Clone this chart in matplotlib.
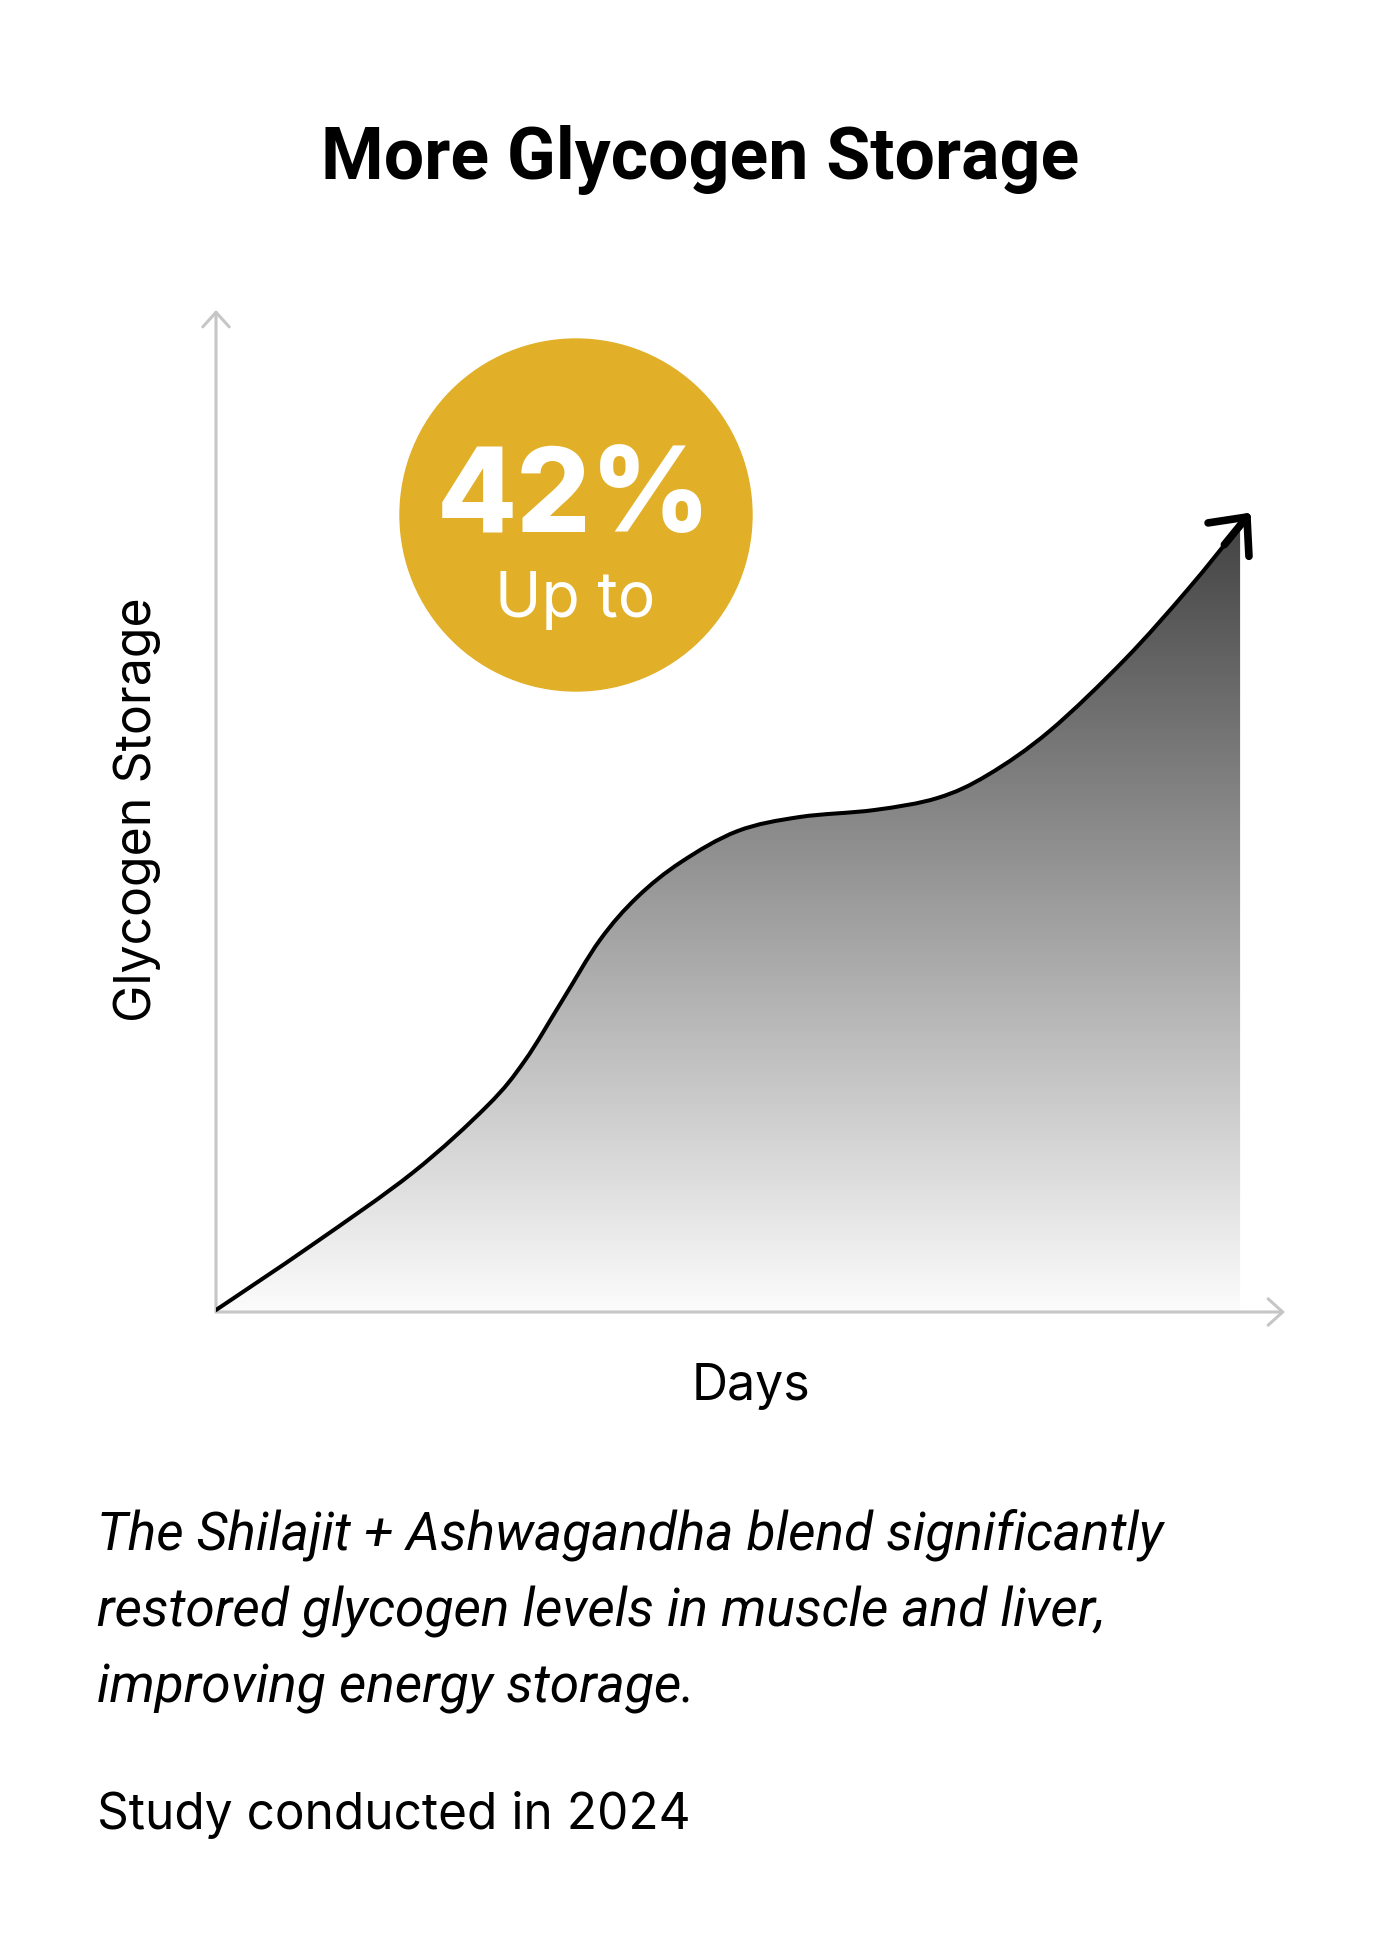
import numpy as np
import matplotlib
matplotlib.use("Agg")
import matplotlib.pyplot as plt
from matplotlib.colors import LinearSegmentedColormap
from matplotlib.patches import Circle, PathPatch
from matplotlib.path import Path

# curve (days, storage in % of axis height)
days = [0.0, 9.0, 18.4, 25.4, 28.9, 32.4, 35.9, 39.4, 43.5, 48.8, 54.6,
        61.6, 67.5, 72.2, 78.0, 85.0, 90.9, 95.8]
storage = [0.2, 6.7, 13.9, 20.6, 25.1, 31.1, 37.1, 41.4, 44.9, 48.0, 49.4,
           50.1, 51.3, 53.6, 58.0, 65.1, 72.1, 78.5]

title = "More Glycogen Storage"
badge_value = "42%"
badge_text = "Up to"
x_label = "Days"
y_label = "Glycogen Storage"
caption = ["The Shilajit + Ashwagandha blend significantly",
           "restored glycogen levels in muscle and liver,",
           "improving energy storage."]
footnote = "Study conducted in 2024"

W, H = 1400, 1960
fig = plt.figure(figsize=(W / 100, H / 100), dpi=100)
fig.patch.set_facecolor("white")


def fx(x):
    return x / W


def fy(y):
    return 1 - y / H


def smooth_path(xs, ys, close_to=None):
    """Bezier path through the points (Catmull-Rom style handles)."""
    p = np.column_stack([xs, ys])
    ext = np.vstack([p[0], p, p[-1]])
    verts = [p[0]]
    codes = [Path.MOVETO]
    for i in range(1, len(ext) - 2):
        p0, p1, p2, p3 = ext[i - 1], ext[i], ext[i + 1], ext[i + 2]
        verts += [p1 + (p2 - p0) / 6, p2 - (p3 - p1) / 6, p2]
        codes += [Path.CURVE4] * 3
    if close_to is not None:
        verts += [(xs[-1], close_to), (xs[0], close_to), p[0]]
        codes += [Path.LINETO, Path.LINETO, Path.CLOSEPOLY]
    return Path(verts, codes)


# plot area
ax = fig.add_axes([fx(216), fy(1312), fx(1285 - 216), (1312 - 310) / H])
ax.set_xlim(0, 100)
ax.set_ylim(0, 100)
ax.axis("off")

# gradient under the curve
cmap = LinearSegmentedColormap.from_list("g", ["#fcfcfc", "#444444"])
top = max(storage)
grad = np.linspace(0, 1, 256).reshape(-1, 1)
im = ax.imshow(grad, cmap=cmap, origin="lower", aspect="auto",
               extent=[days[0], days[-1], 0, top], zorder=1)
im.set_clip_path(smooth_path(days, storage, close_to=0), transform=ax.transData)

ax.add_patch(PathPatch(smooth_path(days, storage), facecolor="none",
                       edgecolor="black", lw=2.9, capstyle="round",
                       joinstyle="round", zorder=3))

# arrow head at the end of the curve
dx = days[-1] - days[-2]
dy = storage[-1] - storage[-2]
ax.annotate("", xy=(days[-1] + 0.2 * dx, storage[-1] + 0.2 * dy),
            xytext=(days[-1] - 0.3 * dx, storage[-1] - 0.3 * dy),
            arrowprops=dict(arrowstyle="->,head_length=1.05,head_width=0.95",
                            lw=5.5, color="black", shrinkA=0, shrinkB=0,
                            mutation_scale=20, capstyle="round",
                            joinstyle="round"), zorder=4)

# axis arrows
axis_col = "#c6c6c6"
for end in [(0, 1), (1, 0)]:
    ax.annotate("", xy=end, xytext=(0, 0), xycoords="axes fraction",
                textcoords="axes fraction",
                arrowprops=dict(arrowstyle="->,head_length=1.05,head_width=0.95",
                                lw=2.2, color=axis_col, shrinkA=0, shrinkB=0),
                zorder=2)

# badge
fig.add_artist(Circle((5.76, (H - 515) / 100), 1.76, color="#E1AF28",
                      transform=fig.dpi_scale_trans, zorder=5))
fig.text(fx(574), fy(532), badge_value, ha="center", va="baseline",
         fontsize=84, fontweight=800, color="white", family="Inter", zorder=6)
fig.text(fx(575), fy(617), badge_text, ha="center", va="baseline",
         fontsize=45, color="white", family="Inter", zorder=6)

# texts
fig.text(fx(700), fy(179), title, ha="center", va="baseline",
         fontsize=51.6, fontweight="bold", family="Roboto")
fig.text(fx(137), fy(810), y_label, ha="center", va="center", rotation=90,
         fontsize=36, family="Inter")
fig.text(fx(751), fy(1400), x_label, ha="center", va="baseline",
         fontsize=36, family="Inter")
for i, line in enumerate(caption):
    fig.text(fx(97), fy(1550 + 76 * i), line, ha="left", va="baseline",
             fontsize=38.3, style="italic", family="Roboto")
fig.text(fx(97), fy(1829), footnote, ha="left", va="baseline",
         fontsize=35.7, family="Inter")

fig.savefig("out.png", dpi=100, facecolor="white")
